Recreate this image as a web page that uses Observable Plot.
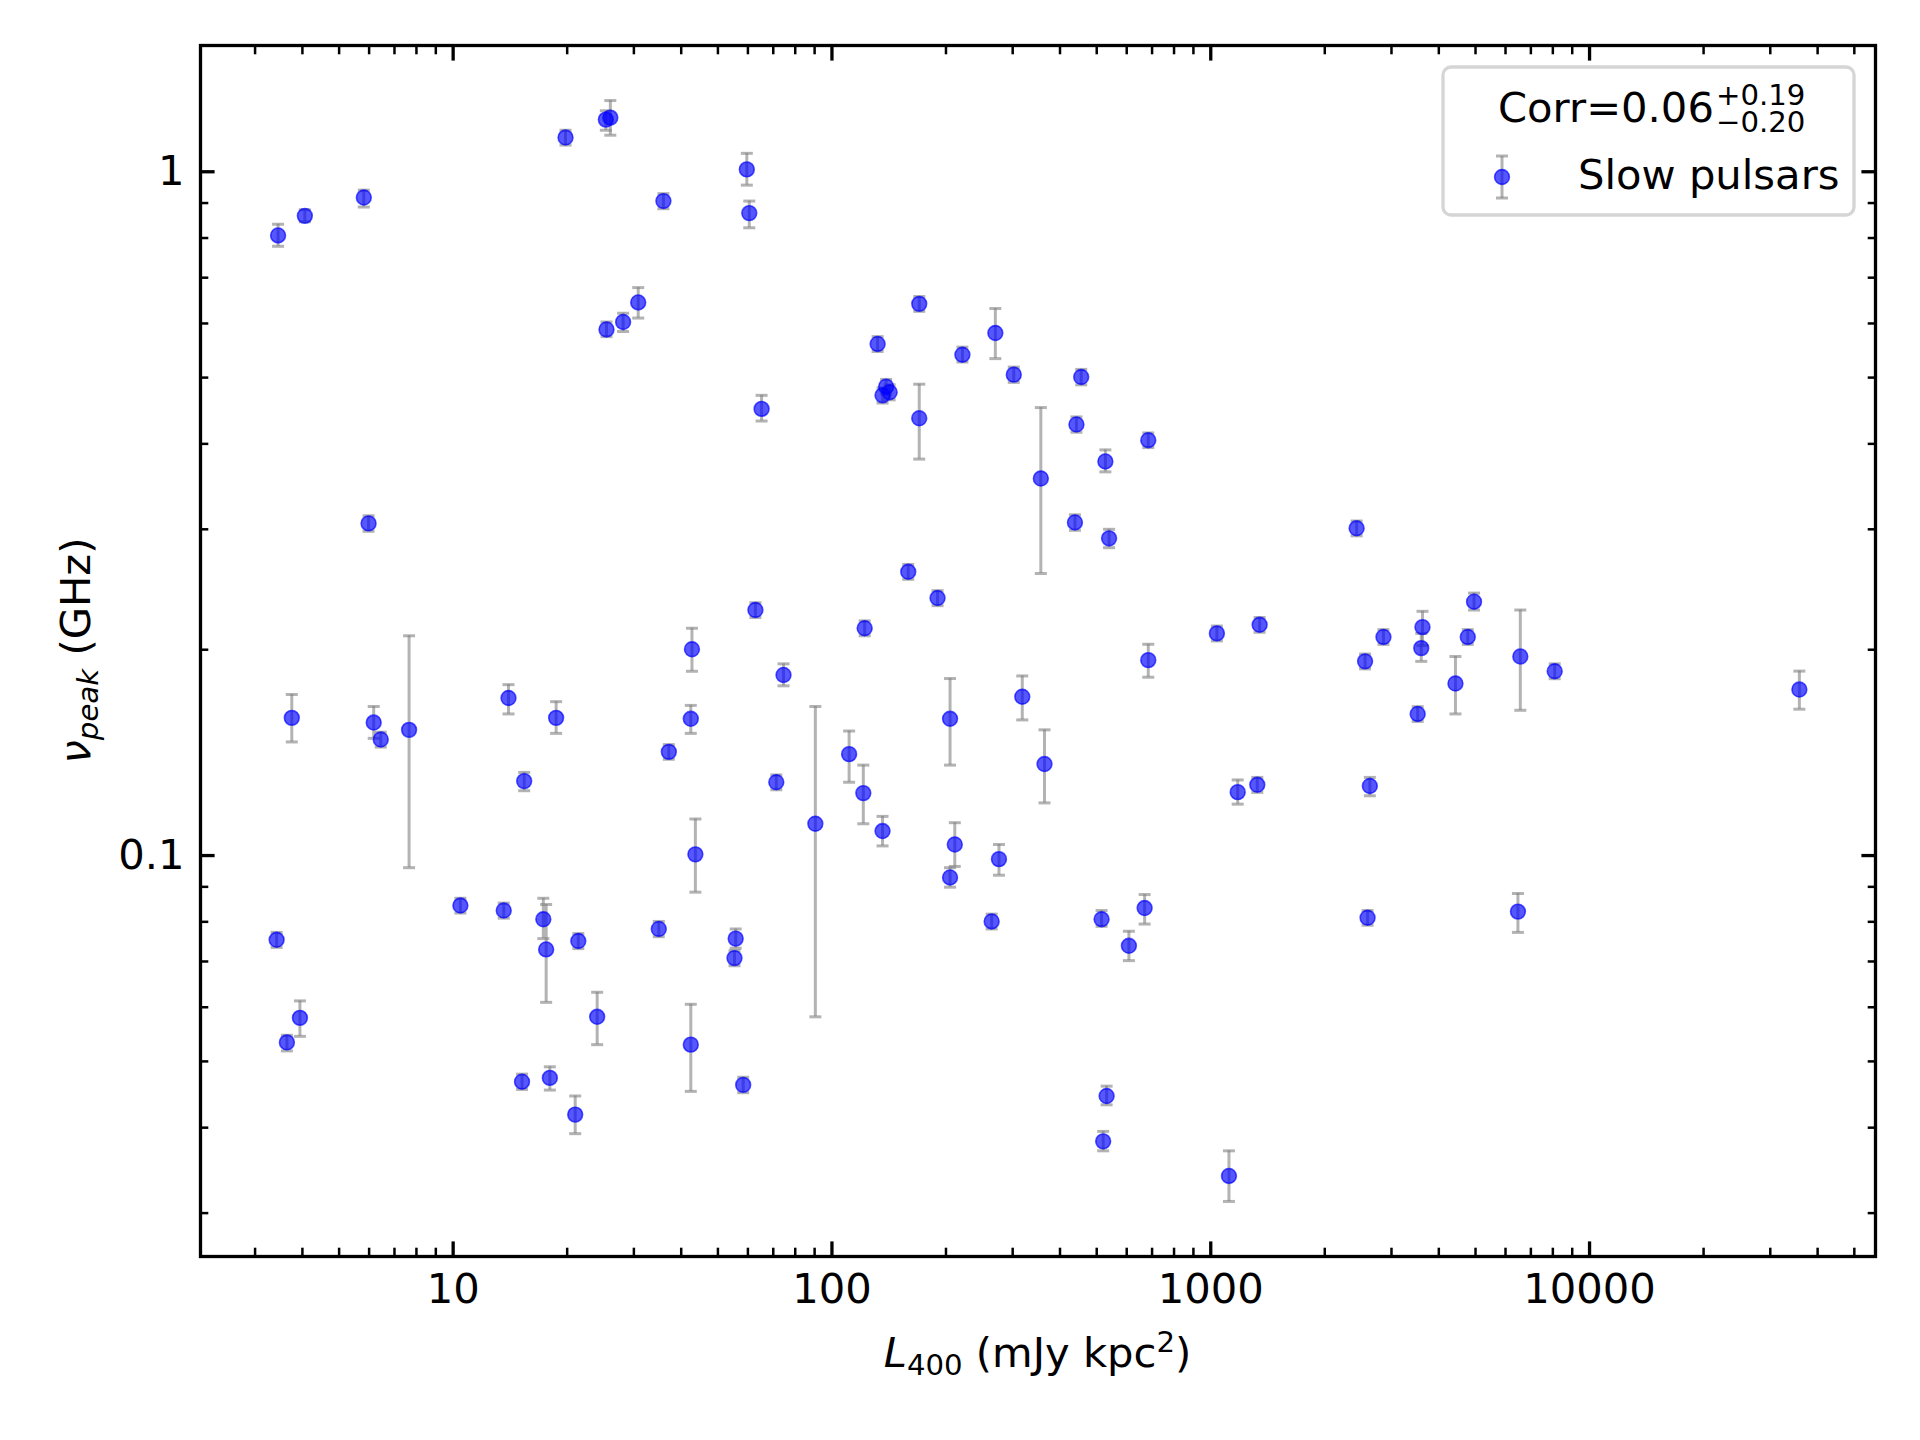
<!DOCTYPE html>
<html>
<head>
<meta charset="utf-8">
<script src="https://cdn.jsdelivr.net/npm/d3@7"></script>
<script src="https://cdn.jsdelivr.net/npm/@observablehq/plot@0.6"></script>
<style>
  html, body { margin: 0; padding: 0; background: #ffffff; }
  #chart { width: 1920px; height: 1440px; }
</style>
</head>
<body>
<div id="chart"></div>
<script>
// ---------------- DATA ----------------
// L400 (mJy kpc^2)
const L400 = [
  3.45, 4.06, 5.81, 19.8, 25.3, 26.0, 35.9, 59.6, 60.5, 25.4,
  28.1, 30.8, 65.2, 132, 170, 136, 139, 142, 170, 221,
  270, 302, 455, 442, 356, 527, 684, 438, 539, 5.98,
  159, 190, 62.8, 122, 42.7, 74.5, 3.75, 6.17, 6.44, 7.65,
  14.0, 18.7, 15.4, 37.1, 42.4, 43.6, 71.3, 90.4, 111, 121,
  136, 205, 211, 205, 276, 318, 364, 264, 515, 669,
  608, 684, 1038, 1346, 1178, 1327, 2427, 2555, 2630, 2594,
  2857, 3518, 3622, 3595, 4426, 4770, 4955, 6565, 8090, 6470,
  35800, 3.42, 3.94, 3.64, 10.45, 13.6, 17.3, 17.6, 21.4, 24.0,
  34.9, 55.7, 55.3, 15.2, 18.0, 21.0, 42.4, 58.3, 531, 520,
  1117
];
// nu_peak (GHz)
const nuPeak = [
  0.807, 0.862, 0.917, 1.122, 1.192, 1.200, 0.906, 1.008, 0.870, 0.588,
  0.603, 0.644, 0.450, 0.560, 0.641, 0.471, 0.485, 0.476, 0.436, 0.540,
  0.581, 0.505, 0.501, 0.427, 0.356, 0.377, 0.405, 0.307, 0.291, 0.306,
  0.260, 0.238, 0.2286, 0.215, 0.2003, 0.1837, 0.159, 0.1565, 0.1478, 0.1527,
  0.170, 0.159, 0.1285, 0.1418, 0.1585, 0.1004, 0.128, 0.1113, 0.1407, 0.1234,
  0.1086, 0.1585, 0.1038, 0.0929, 0.0988, 0.1707, 0.1361, 0.0801, 0.0807, 0.0838,
  0.0738, 0.1931, 0.2113, 0.2175, 0.1238, 0.1269, 0.301, 0.1923, 0.1264, 0.0811,
  0.2088, 0.1611, 0.2158, 0.2011, 0.1785, 0.2088, 0.2351, 0.1955, 0.186, 0.0828,
  0.1749, 0.0753, 0.0579, 0.0533, 0.0845, 0.0831, 0.0807, 0.0729, 0.075, 0.0581,
  0.0781, 0.0756, 0.0708, 0.0467, 0.0473, 0.0418, 0.0529, 0.0462, 0.0445, 0.0382,
  0.0340
];
// lower end of the nu_peak error bar (GHz)
const nuLo = [
  0.778, 0.845, 0.888, 1.094, 1.150, 1.131, 0.883, 0.956, 0.828, 0.574,
  0.584, 0.611, 0.432, 0.546, 0.625, 0.459, 0.473, 0.464, 0.380, 0.527,
  0.533, 0.492, 0.488, 0.416, 0.2585, 0.364, 0.395, 0.299, 0.282, 0.298,
  0.2535, 0.232, 0.2229, 0.2096, 0.186, 0.1771, 0.1466, 0.1484, 0.1441, 0.0960,
  0.1611, 0.1509, 0.1244, 0.1383, 0.1509, 0.0884, 0.1248, 0.0581, 0.128, 0.1113,
  0.1033, 0.1356, 0.0964, 0.0899, 0.0936, 0.1579, 0.1194, 0.0781, 0.0788, 0.0794,
  0.0702, 0.1823, 0.2060, 0.2121, 0.1189, 0.1237, 0.2935, 0.1875, 0.1223, 0.0791,
  0.2036, 0.1571, 0.2028, 0.1923, 0.1611, 0.2036, 0.2286, 0.1631, 0.1814, 0.0772,
  0.1637, 0.0734, 0.0544, 0.0518, 0.0824, 0.0810, 0.0756, 0.0610, 0.0731, 0.0529,
  0.0761, 0.0732, 0.0690, 0.0455, 0.0454, 0.0392, 0.0452, 0.0450, 0.0432, 0.0370,
  0.0312
];
// upper end of the nu_peak error bar (GHz)
const nuHi = [
  0.838, 0.880, 0.940, 1.150, 1.228, 1.271, 0.929, 1.064, 0.906, 0.603,
  0.621, 0.677, 0.471, 0.574, 0.657, 0.483, 0.497, 0.488, 0.489, 0.554,
  0.631, 0.518, 0.514, 0.438, 0.452, 0.392, 0.415, 0.315, 0.300, 0.314,
  0.2665, 0.244, 0.2343, 0.2204, 0.215, 0.1907, 0.172, 0.1652, 0.1515, 0.2096,
  0.1778, 0.1679, 0.1323, 0.1453, 0.1658, 0.1131, 0.1312, 0.1652, 0.1521, 0.1356,
  0.1141, 0.1815, 0.1117, 0.0960, 0.1038, 0.1831, 0.1527, 0.0821, 0.0831, 0.0877,
  0.0775, 0.2037, 0.2166, 0.2229, 0.129, 0.1301, 0.3085, 0.1971, 0.1301, 0.0831,
  0.2140, 0.1651, 0.2276, 0.2113, 0.1955, 0.2140, 0.2420, 0.2286, 0.1907, 0.0880,
  0.1861, 0.0772, 0.0613, 0.0546, 0.0866, 0.0852, 0.0866, 0.0848, 0.0769, 0.0631,
  0.0801, 0.0781, 0.0726, 0.0479, 0.0491, 0.0445, 0.0606, 0.0474, 0.0460, 0.0395,
  0.0370
];

// Tick values and labels
const xMajor = [10, 100, 1000, 10000];
const xMajorLabels = ["10", "100", "1000", "10000"];
const xMinor = [3, 4, 5, 6, 7, 8, 9, 20, 30, 40, 50, 60, 70, 80, 90,
  200, 300, 400, 500, 600, 700, 800, 900, 2000, 3000, 4000, 5000, 6000, 7000, 8000, 9000,
  20000, 30000, 40000, 50000];
const yMajor = [0.1, 1];
const yMajorLabels = ["0.1", "1"];
const yMinor = [0.03, 0.04, 0.05, 0.06, 0.07, 0.08, 0.09, 0.2, 0.3, 0.4, 0.5, 0.6, 0.7, 0.8, 0.9];

const seriesName = "Slow pulsars";
const corrValue = "0.06", corrPlus = "+0.19", corrMinus = "\u22120.20";

// ---------------- CHART ----------------
const FONT = "DejaVu Sans";
const FS = 41.7;

const data = L400.map((L, i) => ({L, nu: nuPeak[i], lo: nuLo[i], hi: nuHi[i]}));

// matplotlib-like autoscale: 5% margins in log space
function logDomain(lo, hi) {
  const a = Math.log10(lo), b = Math.log10(hi), m = 0.05 * (b - a);
  return [Math.pow(10, a - m), Math.pow(10, b + m)];
}
const xDomain = logDomain(d3.min(L400), d3.max(L400));
const yDomain = logDomain(d3.min(nuLo), d3.max(nuHi));

const capSymbol = {
  draw(ctx, size) {
    const w = Math.sqrt(size / Math.PI);
    ctx.moveTo(-w, 0);
    ctx.lineTo(w, 0);
  }
};

const noText = () => "";
const errStyle = {stroke: "#808080", strokeOpacity: 0.6, strokeWidth: 3};
const majorTick = {tickSize: -14.6, strokeWidth: 3.3, tickFormat: noText, label: null};
const minorTick = {tickSize: -8.3, strokeWidth: 2.5, tickFormat: noText, label: null};

const plot = Plot.plot({
  width: 1920,
  height: 1440,
  marginTop: 45,
  marginRight: 45,
  marginBottom: 184,
  marginLeft: 200,
  style: {fontFamily: FONT, fontSize: FS + "px", color: "black", background: "white", overflow: "visible"},
  x: {type: "log", domain: xDomain},
  y: {type: "log", domain: yDomain},
  marks: [
    Plot.ruleX(data, {x: "L", y1: "lo", y2: "hi", ...errStyle}),
    Plot.dot(data, {x: "L", y: "lo", symbol: capSymbol, r: 6, fill: "none", ...errStyle}),
    Plot.dot(data, {x: "L", y: "hi", symbol: capSymbol, r: 6, fill: "none", ...errStyle}),
    Plot.dot(data, {x: "L", y: "nu", r: 7.4, fill: "blue", fillOpacity: 0.66, stroke: "blue", strokeOpacity: 0.66, strokeWidth: 1.6}),

    // ticks, all four sides, pointing in
    Plot.axisX(xMinor, {anchor: "bottom", ...minorTick}),
    Plot.axisX(xMinor, {anchor: "top", ...minorTick}),
    Plot.axisX(xMajor, {anchor: "bottom", ...majorTick}),
    Plot.axisX(xMajor, {anchor: "top", ...majorTick}),
    Plot.axisY(yMinor, {anchor: "left", ...minorTick}),
    Plot.axisY(yMinor, {anchor: "right", ...minorTick}),
    Plot.axisY(yMajor, {anchor: "left", ...majorTick}),
    Plot.axisY(yMajor, {anchor: "right", ...majorTick}),

    // tick labels
    Plot.axisX(xMajor, {anchor: "bottom", tickSize: 0, tickPadding: 17, fontSize: FS, label: null,
      tickFormat: d => xMajorLabels[xMajor.indexOf(d)]}),
    Plot.axisY(yMajor, {anchor: "left", tickSize: 0, tickPadding: 16, fontSize: FS, label: null,
      tickFormat: d => yMajorLabels[yMajor.indexOf(d)]}),

    Plot.frame({stroke: "black", strokeWidth: 3.3})
  ]
});

document.getElementById("chart").appendChild(plot);

// ---------------- annotations: axis titles and legend ----------------
const svg = d3.select(plot);
const g = svg.append("g").attr("font-family", FONT).attr("fill", "black").attr("text-anchor", "start");

// x-axis title
const xl = g.append("text")
  .attr("x", 1037.5).attr("y", 1367)
  .attr("text-anchor", "middle").attr("font-size", FS);
xl.append("tspan").attr("font-style", "italic").text("L");
xl.append("tspan").attr("font-size", FS * 0.7).attr("dy", 8).text("400");
xl.append("tspan").attr("dy", -8).text(" (mJy kpc");
xl.append("tspan").attr("font-size", FS * 0.7).attr("dy", -15).text("2");
xl.append("tspan").attr("dy", 15).text(")");

// y-axis title
const yl = g.append("text")
  .attr("transform", "translate(90,650.5) rotate(-90)")
  .attr("text-anchor", "middle").attr("font-size", FS);
yl.append("tspan").attr("font-style", "italic").text("\u03BD");
yl.append("tspan").attr("font-style", "italic").attr("font-size", FS * 0.7).attr("dy", 8).text("peak");
yl.append("tspan").attr("dy", -8).text(" (GHz)");

// legend box
g.append("rect")
  .attr("x", 1443).attr("y", 67).attr("width", 411).attr("height", 148)
  .attr("rx", 8).attr("ry", 8)
  .attr("fill", "white").attr("fill-opacity", 0.8)
  .attr("stroke", "#d5d5d5").attr("stroke-width", 3.3);

// legend title
g.append("text").attr("text-anchor", "start").attr("x", 1498).attr("y", 121.5).attr("font-size", FS).text("Corr=" + corrValue);
g.append("text").attr("text-anchor", "start").attr("x", 1716).attr("y", 105).attr("font-size", FS * 0.7).text(corrPlus);
g.append("text").attr("text-anchor", "start").attr("x", 1716).attr("y", 132).attr("font-size", FS * 0.7).text(corrMinus);

// legend entry
const lx = 1502, ly = 177;
g.append("line").attr("x1", lx).attr("x2", lx).attr("y1", 156).attr("y2", 198)
  .attr("stroke", "#808080").attr("stroke-opacity", 0.6).attr("stroke-width", 3);
[156, 198].forEach(yy => g.append("line").attr("x1", lx - 6).attr("x2", lx + 6).attr("y1", yy).attr("y2", yy)
  .attr("stroke", "#808080").attr("stroke-opacity", 0.6).attr("stroke-width", 3));
g.append("circle").attr("cx", lx).attr("cy", ly).attr("r", 7.4)
  .attr("fill", "blue").attr("fill-opacity", 0.66)
  .attr("stroke", "blue").attr("stroke-opacity", 0.66).attr("stroke-width", 1.6);
g.append("text").attr("text-anchor", "start").attr("x", 1578).attr("y", 188.5).attr("font-size", FS).text(seriesName);
</script>
</body>
</html>
